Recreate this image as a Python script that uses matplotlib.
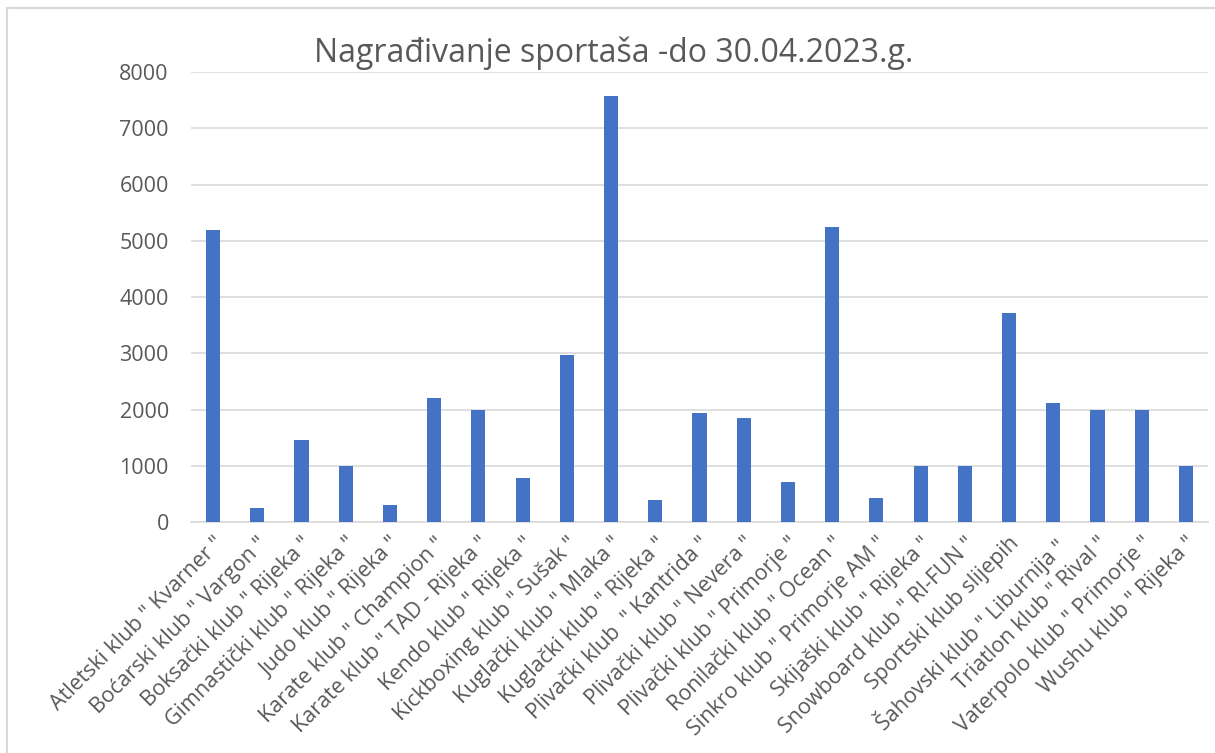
import matplotlib.pyplot as plt
from matplotlib.patches import Rectangle

klubovi = [
    'Atletski klub " Kvarner "', 'Boćarski klub " Vargon "', 'Boksački klub " Rijeka "',
    'Gimnastički klub " Rijeka "', 'Judo klub " Rijeka "', 'Karate klub " Champion "',
    'Karate klub " TAD - Rijeka "', 'Kendo klub " Rijeka "', 'Kickboxing klub " Sušak "',
    'Kuglački klub " Mlaka "', 'Kuglački klub " Rijeka "', 'Plivački klub  " Kantrida "',
    'Plivački klub " Nevera "', 'Plivački klub " Primorje "', 'Ronilački klub " Ocean "',
    'Sinkro klub " Primorje AM "', 'Skijaški klub " Rijeka "', 'Snowboard klub " RI-FUN "',
    'Sportski klub slijepih', 'Šahovski klub " Liburnija "', 'Triatlon klub " Rival "',
    'Vaterpolo klub " Primorje "', 'Wushu klub " Rijeka "',
]
iznosi = [5200, 250, 1460, 1000, 300, 2200, 2000, 780, 2970, 7570, 400, 1940,
          1850, 720, 5250, 420, 1000, 1000, 3720, 2120, 2000, 2000, 1000]
y_ticks = [0, 1000, 2000, 3000, 4000, 5000, 6000, 7000, 8000]

plt.rcParams['font.family'] = ['Open Sans', 'DejaVu Sans']
text_color = '#595959'

fig = plt.figure(figsize=(12.15, 7.53), dpi=100)
ax = fig.add_axes([191 / 1215, 1 - 522 / 753, (1208 - 191) / 1215, 450 / 753])

x = list(range(len(klubovi)))
ax.bar(x, iznosi, width=0.32, color='#4472C4', zorder=3)

ax.set_xlim(-0.5, len(klubovi) - 0.5)
ax.set_ylim(0, 8000)
ax.set_yticks(y_ticks)
ax.set_yticklabels([str(v) for v in y_ticks], fontsize=15.5, color=text_color)
ax.set_xticks(x)
ax.set_xticklabels(klubovi, rotation=45, ha='right', rotation_mode='anchor',
                   fontsize=15.5, color=text_color)
ax.tick_params(axis='both', length=0)
ax.tick_params(axis='y', pad=16)
ax.tick_params(axis='x', pad=8)

ax.grid(axis='y', color='#d9d9d9', linewidth=1.2, zorder=0)
for s in ['top', 'right', 'left']:
    ax.spines[s].set_visible(False)
ax.spines['bottom'].set_color('#d9d9d9')
ax.spines['bottom'].set_linewidth(1.2)

fig.text(614 / 1215, 1 - 53 / 753, 'Nagrađivanje sportaša -do 30.04.2023.g.',
         ha='center', va='center', fontsize=23, color=text_color)

# okvir oko grafikona
fig.patches.append(Rectangle((7 / 1215, -0.01), 1.02, 1 - 8 / 753 + 0.01,
                             transform=fig.transFigure, fill=False,
                             edgecolor='#d9d9d9', linewidth=1.5))

plt.savefig('out.png', dpi=100, facecolor='white')
plt.close()
